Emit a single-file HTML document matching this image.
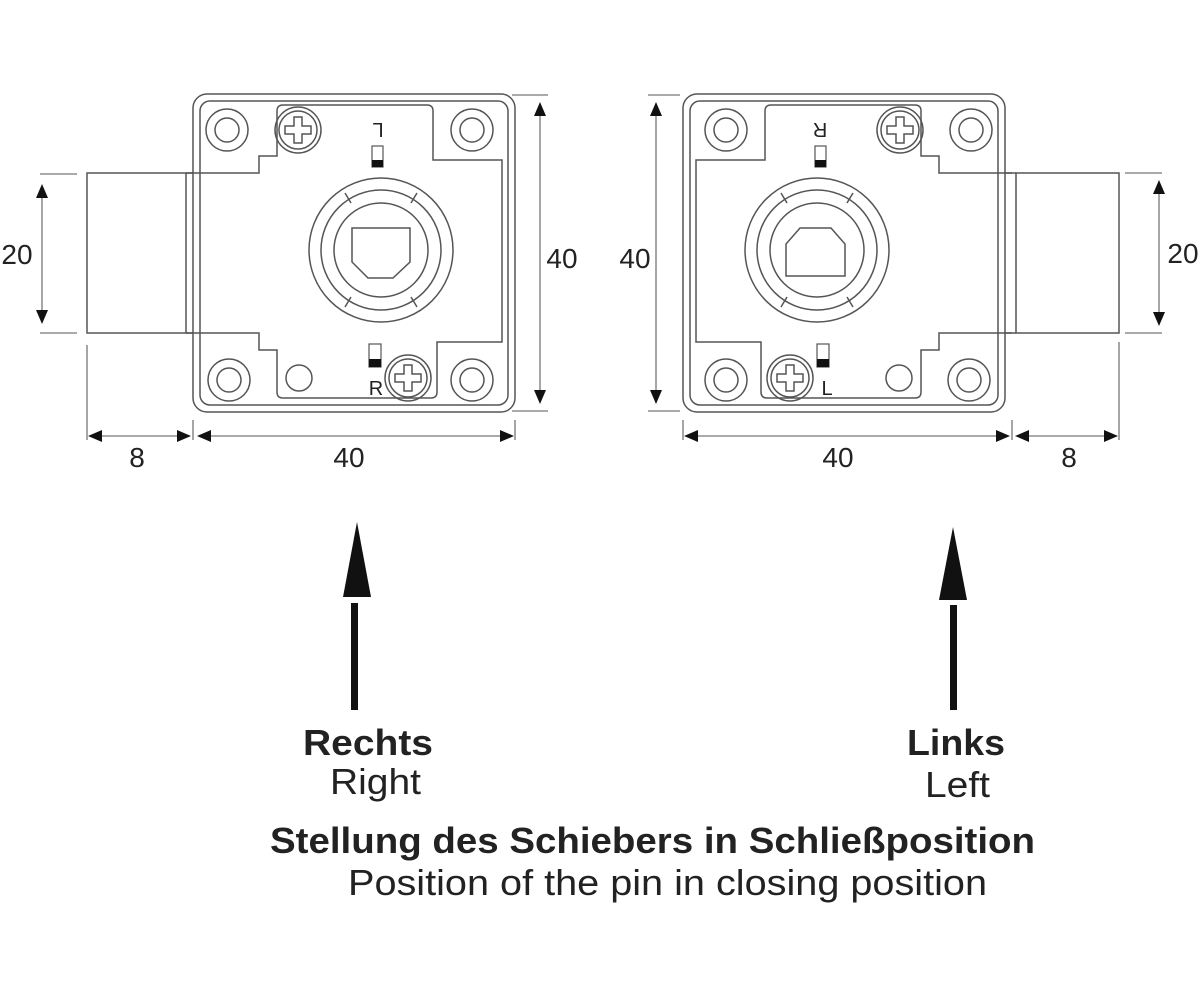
<!DOCTYPE html>
<html><head><meta charset="utf-8"><style>
html,body{margin:0;padding:0;background:#fff;}
svg{display:block;}
text{font-family:"Liberation Sans",Arial,sans-serif;fill:#222;}
</style></head><body>
<svg width="1200" height="1000" viewBox="0 0 1200 1000" xmlns="http://www.w3.org/2000/svg">
<defs>
<g id="lock" fill="none" stroke="#555" stroke-width="1.5">
  <rect x="193" y="94" width="322" height="318" rx="14"/>
  <rect x="200" y="101" width="308" height="304" rx="10"/>
  <path d="M186 173 L259 173 L259 156 L277 156 L277 111 Q277 105 283 105 L427 105 Q433 105 433 111 L433 160 L502 160 L502 342 L437 342 L437 392 Q437 398 431 398 L283 398 Q277 398 277 392 L277 350 L259 350 L259 333 L186 333"/>
  <circle cx="227" cy="130" r="21"/><circle cx="227" cy="130" r="12"/>
  <circle cx="472" cy="130" r="21"/><circle cx="472" cy="130" r="12"/>
  <circle cx="229" cy="380" r="21"/><circle cx="229" cy="380" r="12"/>
  <circle cx="472" cy="380" r="21"/><circle cx="472" cy="380" r="12"/>
  <circle cx="299" cy="378" r="13"/>
  <circle cx="298" cy="130" r="23"/><circle cx="298" cy="130" r="19"/>
  <path d="M294 117 h8 v9 h9 v8 h-9 v9 h-8 v-9 h-9 v-8 h9z"/>
  <circle cx="408" cy="378" r="23"/><circle cx="408" cy="378" r="19"/>
  <path d="M404 365 h8 v9 h9 v8 h-9 v9 h-8 v-9 h-9 v-8 h9z"/>
  <circle cx="381" cy="250" r="72"/>
  <circle cx="381" cy="250" r="60"/>
  <circle cx="381" cy="250" r="47"/>
  <line x1="351" y1="203" x2="345" y2="193"/><line x1="411" y1="203" x2="417" y2="193"/>
  <line x1="351" y1="297" x2="345" y2="307"/><line x1="411" y1="297" x2="417" y2="307"/>
  <rect x="372" y="146" width="11" height="21" stroke-width="1.2"/>
  <rect x="372" y="160" width="11" height="7" fill="#111" stroke="none"/>
  <rect x="369" y="344" width="12" height="23" stroke-width="1.2"/>
  <rect x="369" y="359" width="12" height="8" fill="#111" stroke="none"/>
</g>
</defs>
<use href="#lock"/>
<g transform="translate(1198,0) scale(-1,1)"><use href="#lock"/></g>

<g fill="none" stroke="#555" stroke-width="1.5">
  <rect x="87" y="173" width="99" height="160"/>
  <line x1="186" y1="173" x2="193" y2="173"/><line x1="186" y1="333" x2="193" y2="333"/>
  <rect x="1016" y="173" width="103" height="160"/>
  <line x1="1005" y1="173" x2="1016" y2="173"/><line x1="1005" y1="333" x2="1016" y2="333"/>
  <path d="M352 228 L410 228 L410 262 L393 278 L368 278 L352 262 Z"/>
  <path d="M786 276 L845 276 L845 244 L831 228 L800 228 L786 244 Z"/>
</g>

<g stroke="#777" stroke-width="1.3" fill="none">
  <line x1="40" y1="174" x2="77" y2="174"/><line x1="40" y1="333" x2="77" y2="333"/>
  <line x1="42" y1="190" x2="42" y2="318"/>
  <line x1="87" y1="345" x2="87" y2="440"/><line x1="193" y1="420" x2="193" y2="440"/>
  <line x1="100" y1="436" x2="180" y2="436"/>
  <line x1="515" y1="420" x2="515" y2="440"/>
  <line x1="210" y1="436" x2="503" y2="436"/>
  <line x1="512" y1="95" x2="548" y2="95"/><line x1="512" y1="411" x2="548" y2="411"/>
  <line x1="540" y1="108" x2="540" y2="398"/>
  <line x1="648" y1="95" x2="680" y2="95"/><line x1="648" y1="411" x2="680" y2="411"/>
  <line x1="656" y1="108" x2="656" y2="398"/>
  <line x1="683" y1="420" x2="683" y2="440"/><line x1="1012" y1="420" x2="1012" y2="440"/>
  <line x1="697" y1="436" x2="998" y2="436"/>
  <line x1="1119" y1="342" x2="1119" y2="440"/>
  <line x1="1028" y1="436" x2="1106" y2="436"/>
  <line x1="1125" y1="173" x2="1162" y2="173"/><line x1="1125" y1="333" x2="1162" y2="333"/>
  <line x1="1159" y1="188" x2="1159" y2="318"/>
</g>
<g fill="#111">
  <path d="M42 184 l-6 14 h12z"/><path d="M42 324 l-6 -14 h12z"/>
  <path d="M88 436 l14 -6 v12z"/><path d="M191 436 l-14 -6 v12z"/>
  <path d="M197 436 l14 -6 v12z"/><path d="M514 436 l-14 -6 v12z"/>
  <path d="M540 102 l-6 14 h12z"/><path d="M540 404 l-6 -14 h12z"/>
  <path d="M656 102 l-6 14 h12z"/><path d="M656 404 l-6 -14 h12z"/>
  <path d="M684 436 l14 -6 v12z"/><path d="M1010 436 l-14 -6 v12z"/>
  <path d="M1015 436 l14 -6 v12z"/><path d="M1118 436 l-14 -6 v12z"/>
  <path d="M1159 180 l-6 14 h12z"/><path d="M1159 326 l-6 -14 h12z"/>
</g>
<g font-size="28" text-anchor="middle">
  <text x="17" y="264">20</text>
  <text x="137" y="467">8</text>
  <text x="349" y="467">40</text>
  <text x="562" y="268">40</text>
  <text x="635" y="268">40</text>
  <text x="838" y="467">40</text>
  <text x="1069" y="467">8</text>
  <text x="1183" y="263">20</text>
</g>
<g font-size="20" text-anchor="middle">
  <text x="378" y="137" transform="rotate(180 378 130)">L</text>
  <text x="376" y="395">R</text>
  <text x="820" y="137" transform="rotate(180 820 130)">R</text>
  <text x="827" y="395">L</text>
</g>

<g fill="#111">
  <path d="M357 522 L371 597 L343 597 Z"/>
  <rect x="351" y="603" width="7" height="107"/>
  <path d="M953 527 L967 600 L939 600 Z"/>
  <rect x="950" y="605" width="7" height="105"/>
</g>
<g>
  <text x="303" y="755" font-size="36" font-weight="bold" textLength="130" lengthAdjust="spacingAndGlyphs">Rechts</text>
  <text x="330" y="794" font-size="36" textLength="91" lengthAdjust="spacingAndGlyphs">Right</text>
  <text x="907" y="755" font-size="36" font-weight="bold" textLength="98" lengthAdjust="spacingAndGlyphs">Links</text>
  <text x="925" y="797" font-size="36" textLength="65" lengthAdjust="spacingAndGlyphs">Left</text>
  <text x="270" y="853" font-size="36" font-weight="bold" textLength="765" lengthAdjust="spacingAndGlyphs">Stellung des Schiebers in Schließposition</text>
  <text x="348" y="895" font-size="36" textLength="639" lengthAdjust="spacingAndGlyphs">Position of the pin in closing position</text>
</g>
</svg>
</body></html>
